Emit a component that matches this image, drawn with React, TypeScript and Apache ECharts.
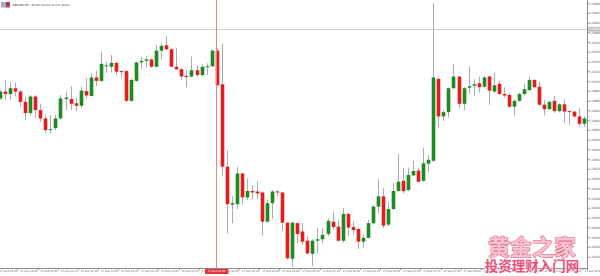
import React, { useEffect, useRef } from "react";
import * as echarts from "echarts";

const opens = [1.29665,1.29679,1.29674,1.29686,1.29679,1.29658,1.29635,1.29669,1.29641,1.29624,1.29600,1.29604,1.29624,1.29664,1.29664,1.29655,1.29650,1.29680,1.29670,1.29708,1.29701,1.29731,1.29730,1.29738,1.29721,1.29721,1.29660,1.29701,1.29739,1.29742,1.29745,1.29730,1.29763,1.29774,1.29766,1.29730,1.29725,1.29711,1.29710,1.29723,1.29713,1.29730,1.29731,1.29763,1.29694,1.29525,1.29447,1.29448,1.29511,1.29462,1.29475,1.29474,1.29472,1.29412,1.29450,1.29474,1.29472,1.29410,1.29336,1.29409,1.29392,1.29373,1.29346,1.29373,1.29376,1.29387,1.29412,1.29402,1.29373,1.29428,1.29401,1.29397,1.29371,1.29379,1.29409,1.29443,1.29464,1.29406,1.29438,1.29475,1.29496,1.29477,1.29507,1.29517,1.29496,1.29531,1.29537,1.29705,1.29628,1.29637,1.29686,1.29710,1.29654,1.29687,1.29691,1.29696,1.29689,1.29710,1.29679,1.29695,1.29674,1.29672,1.29648,1.29660,1.29674,1.29682,1.29703,1.29689,1.29652,1.29643,1.29660,1.29639,1.29653,1.29639,1.29638,1.29628,1.29613];
const closes = [1.29679,1.29674,1.29686,1.29679,1.29658,1.29635,1.29669,1.29641,1.29624,1.29600,1.29602,1.29624,1.29665,1.29667,1.29654,1.29650,1.29681,1.29671,1.29708,1.29701,1.29736,1.29733,1.29738,1.29720,1.29719,1.29660,1.29703,1.29739,1.29742,1.29745,1.29730,1.29763,1.29773,1.29766,1.29730,1.29725,1.29710,1.29709,1.29723,1.29713,1.29730,1.29731,1.29763,1.29692,1.29525,1.29448,1.29450,1.29511,1.29462,1.29475,1.29472,1.29470,1.29412,1.29450,1.29474,1.29472,1.29410,1.29337,1.29410,1.29387,1.29371,1.29347,1.29373,1.29376,1.29385,1.29414,1.29401,1.29373,1.29428,1.29400,1.29395,1.29371,1.29379,1.29409,1.29443,1.29464,1.29404,1.29438,1.29475,1.29494,1.29475,1.29508,1.29516,1.29494,1.29532,1.29539,1.29708,1.29628,1.29637,1.29686,1.29710,1.29654,1.29686,1.29690,1.29694,1.29688,1.29708,1.29681,1.29692,1.29674,1.29671,1.29648,1.29660,1.29674,1.29684,1.29703,1.29688,1.29652,1.29643,1.29658,1.29639,1.29653,1.29638,1.29637,1.29628,1.29613,1.29624];
const lows = [1.29662,1.29662,1.29662,1.29669,1.29648,1.29621,1.29631,1.29625,1.29617,1.29594,1.29594,1.29600,1.29621,1.29641,1.29641,1.29638,1.29645,1.29665,1.29669,1.29690,1.29699,1.29718,1.29718,1.29713,1.29706,1.29658,1.29658,1.29699,1.29725,1.29729,1.29728,1.29729,1.29745,1.29764,1.29729,1.29723,1.29703,1.29688,1.29708,1.29710,1.29710,1.29713,1.29729,1.29690,1.29505,1.29388,1.29409,1.29438,1.29447,1.29457,1.29458,1.29458,1.29383,1.29410,1.29418,1.29464,1.29394,1.29334,1.29319,1.29367,1.29365,1.29344,1.29321,1.29347,1.29368,1.29382,1.29395,1.29371,1.29369,1.29382,1.29385,1.29356,1.29358,1.29378,1.29406,1.29429,1.29399,1.29403,1.29436,1.29474,1.29470,1.29474,1.29505,1.29493,1.29494,1.29513,1.29535,1.29606,1.29619,1.29626,1.29684,1.29645,1.29641,1.29674,1.29670,1.29677,1.29687,1.29652,1.29677,1.29672,1.29667,1.29646,1.29630,1.29658,1.29672,1.29681,1.29686,1.29650,1.29630,1.29641,1.29636,1.29636,1.29615,1.29611,1.29626,1.29607,1.29607];
const highs = [1.29682,1.29703,1.29699,1.29697,1.29682,1.29669,1.29672,1.29672,1.29654,1.29631,1.29631,1.29631,1.29672,1.29679,1.29690,1.29666,1.29689,1.29706,1.29717,1.29722,1.29761,1.29740,1.29754,1.29740,1.29723,1.29723,1.29706,1.29740,1.29751,1.29752,1.29748,1.29774,1.29778,1.29793,1.29768,1.29768,1.29727,1.29723,1.29751,1.29733,1.29735,1.29737,1.29766,1.29768,1.29778,1.29559,1.29464,1.29525,1.29512,1.29501,1.29487,1.29494,1.29474,1.29457,1.29477,1.29477,1.29473,1.29411,1.29412,1.29410,1.29410,1.29382,1.29376,1.29399,1.29399,1.29419,1.29433,1.29416,1.29440,1.29429,1.29412,1.29399,1.29385,1.29416,1.29447,1.29499,1.29481,1.29453,1.29491,1.29551,1.29522,1.29523,1.29537,1.29522,1.29563,1.29549,1.29860,1.29708,1.29641,1.29688,1.29735,1.29711,1.29688,1.29731,1.29704,1.29710,1.29711,1.29711,1.29718,1.29701,1.29688,1.29676,1.29663,1.29677,1.29695,1.29710,1.29704,1.29699,1.29662,1.29660,1.29670,1.29655,1.29663,1.29641,1.29639,1.29645,1.29628];

const yTickValues = [1.2986,1.2984,1.2982,1.2980,1.2978,1.2976,1.2974,1.2972,1.2970,1.2968,1.2966,1.2964,1.2962,1.2960,1.2958,1.2956,1.2954,1.2952,1.2950,1.2948,1.2946,1.2944,1.2942,1.2940,1.2938,1.2936,1.2934];
const dayLabel = "17 Sep";
const firstBarMinutes = 10 * 60 + 25;
const barMinutes = 5;
const redLineIndex = 43;
const priceLineValue = 1.29807;

const pad = (n: number) => (n < 10 ? "0" + n : "" + n);
const categories = opens.map((_, i) => {
  const t = firstBarMinutes + i * barMinutes;
  return `${dayLabel} ${pad(Math.floor(t / 60))}:${pad(t % 60)}`;
});

const GREEN = "#1f8a22";
const RED = "#e21d1d";
const WICK = "#ababab";

export default function App() {
  const ref = useRef<HTMLDivElement>(null);
  useEffect(() => {
    if (!ref.current) return;
    const chart = echarts.init(ref.current, undefined, { renderer: "svg" });
    const data = opens.map((o, i) => [i, o, closes[i], lows[i], highs[i]]);
    const fontFamily = "DejaVu Sans, sans-serif";
    chart.setOption({
      animation: false,
      backgroundColor: "#ffffff",
      grid: { left: -2.5, right: 13, top: 0, bottom: 8, outerBoundsMode: "none", containLabel: false },
      xAxis: {
        type: "category",
        data: categories,
        boundaryGap: true,
        axisLine: { show: true, lineStyle: { color: "#8a8a8a", width: 1 } },
        axisTick: { show: true, interval: 3, length: 2, lineStyle: { color: "#8a8a8a" } },
        axisLabel: {
          interval: 3,
          align: "left",
          margin: 2,
          fontSize: 2.6,
          color: "#555",
          fontFamily,
        },
        splitLine: { show: false },
      },
      yAxis: {
        type: "value",
        position: "right",
        min: 1.29317,
        max: 1.29867,
        scale: true,
        axisLine: { show: true, lineStyle: { color: "#8a8a8a", width: 1 } },
        axisTick: { show: true, length: 2, customValues: yTickValues, lineStyle: { color: "#8a8a8a" } },
        axisLabel: {
          customValues: yTickValues,
          margin: 2,
          fontSize: 3,
          color: "#555",
          fontFamily,
          formatter: (v: number) => v.toFixed(5),
        },
        splitLine: { show: false },
      },
      series: [
        {
          type: "custom",
          data,
          encode: { x: 0, y: [1, 2, 3, 4] },
          renderItem: (params: any, api: any) => {
            const idx = api.value(0);
            const o = api.value(1);
            const c = api.value(2);
            const l = api.value(3);
            const h = api.value(4);
            const pO = api.coord([idx, o]);
            const pC = api.coord([idx, c]);
            const pL = api.coord([idx, l]);
            const pH = api.coord([idx, h]);
            const band = api.size([1, 0])[0];
            const w = band * 0.72;
            const cx = pO[0];
            const wx = Math.round(cx) + 0.5;
            const top = Math.min(pO[1], pC[1]);
            const hgt = Math.max(1, Math.abs(pO[1] - pC[1]));
            return {
              type: "group",
              children: [
                {
                  type: "line",
                  shape: { x1: wx, y1: pH[1], x2: wx, y2: pL[1] },
                  style: { stroke: WICK, lineWidth: 1 },
                },
                {
                  type: "rect",
                  shape: { x: wx - w / 2, y: top, width: w, height: hgt },
                  style: { fill: c >= o ? GREEN : RED },
                },
              ],
            };
          },
        },
        {
          type: "line",
          data: closes,
          showSymbol: false,
          silent: true,
          color: "#d2d2d2",
          lineStyle: { opacity: 0, width: 0 },
          z: 1,
          markLine: {
            silent: true,
            symbol: "none",
            animation: false,
            precision: 5,
            lineStyle: { color: "#d2d2d2", width: 1, type: "solid", opacity: 1 },
            data: [
              {
                yAxis: priceLineValue,
                lineStyle: { color: "#d2d2d2", width: 1, type: "solid", opacity: 1 },
                label: {
                  show: true,
                  position: "end",
                  distance: 1,
                  formatter: priceLineValue.toFixed(5),
                  color: "#ffffff",
                  backgroundColor: "#c2c2c2",
                  padding: [1, 1, 1, 1],
                  fontSize: 3,
                  fontFamily,
                },
              },
            ],
          },
        },
        {
          type: "line",
          data: closes,
          showSymbol: false,
          silent: true,
          color: "#ee8080",
          lineStyle: { opacity: 0, width: 0 },
          z: 5,
          markLine: {
            silent: true,
            symbol: "none",
            animation: false,
            lineStyle: { color: "#ee8080", width: 1, type: "solid", opacity: 1 },
            data: [
              {
                xAxis: redLineIndex,
                label: {
                  show: true,
                  position: "start",
                  distance: 1,
                  formatter: categories[redLineIndex],
                  color: "#ffffff",
                  backgroundColor: "#e8323a",
                  padding: [1, 3, 1, 3],
                  fontSize: 2.6,
                  fontFamily,
                },
              },
            ],
          },
        },
      ],
      graphic: [
        { type: "rect", shape: { x: 1, y: 2, width: 4.5, height: 5.5 }, style: { fill: "#a9a9dc" }, z: 10 },
        { type: "rect", shape: { x: 5.5, y: 2, width: 4.5, height: 5.5 }, style: { fill: "#c9454f" }, z: 10 },
        { type: "rect", shape: { x: 6.5, y: 3, width: 2.5, height: 2 }, style: { fill: "#3a4aa0" }, z: 10 },
        {
          type: "text",
          x: 12,
          y: 5,
          z: 10,
          style: {
            text: "GBPUSD,M5:  British Pound vs U.S. Dollar",
            fontSize: 2.8,
            fill: "#333",
            fontFamily,
            verticalAlign: "middle",
          },
        },
        {
          type: "text",
          x: 532,
          y: 245,
          z: 20,
          style: {
            text: "黄金之家",
            fontSize: 22,
            fontWeight: "bold",
            fill: "#f7c3cf",
            stroke: "#de4f78",
            lineWidth: 1,
            fontFamily: "Noto Sans CJK SC",
            align: "center",
            verticalAlign: "middle",
          },
        },
        {
          type: "text",
          x: 532,
          y: 265,
          z: 20,
          style: {
            text: "投资理财入门网",
            fontSize: 13.5,
            fontWeight: "bold",
            fill: "#ee4d78",
            stroke: "#ffffff",
            lineWidth: 1,
            fontFamily: "Noto Sans CJK SC",
            align: "center",
            verticalAlign: "middle",
          },
        },
      ],
    });
    return () => chart.dispose();
  }, []);
  return (
    <div
      ref={ref}
      style={{ position: "fixed", left: 0, top: 0, width: 600, height: 276 }}
    />
  );
}
